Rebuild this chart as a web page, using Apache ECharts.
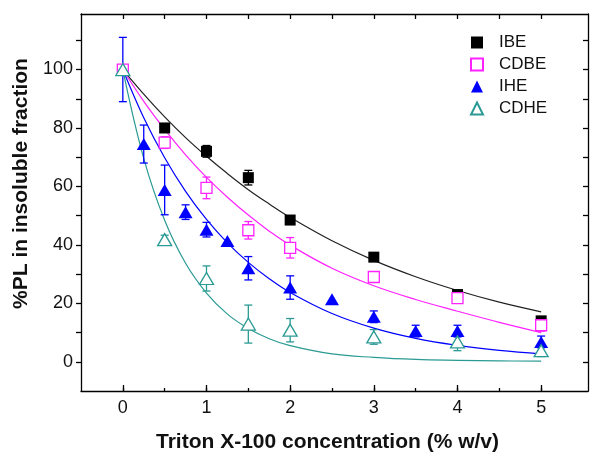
<!DOCTYPE html>
<html><head><meta charset="utf-8">
<script src="https://cdn.jsdelivr.net/npm/echarts@6/dist/echarts.min.js"></script>
<style>html,body{margin:0;padding:0;background:#fff}#c{width:590px;height:452px}</style>
</head><body><div id="c"></div>
<script>
// ---- data ----
const xIBE = [0, 0.5, 1, 1.5, 2, 3, 4, 5];
const yIBE = [100, 80, 72, 63, 48.5, 35.8, 23, 14];
const eIBE = [0, 1.5, 2, 2.5, 1.5, 1, 1, 1];

const xCDBE = [0, 0.5, 1, 1.5, 2, 3, 4, 5];
const yCDBE = [100, 75, 59.5, 45, 39, 29, 21.8, 12.5];
const eCDBE = [0, 2, 3.7, 3, 3.5, 1.5, 1.5, 2];

const xIHE = [0, 0.25, 0.5, 0.75, 1, 1.25, 1.5, 2, 2.5, 3, 3.5, 4, 5];
const yIHE = [100, 74.5, 58.8, 51.2, 45.2, 41.3, 32, 25.4, 21.4, 15.4, 10.5, 10.5, 6.8];
const eIHE = [11, 6.5, 8.5, 2.5, 2.5, 0, 4, 4, 0, 2, 2, 2, 2];

const xCDHE = [0, 0.5, 1, 1.5, 2, 3, 4, 5];
const yCDHE = [100, 41.8, 28.5, 12.9, 10.8, 8.5, 6.8, 3.8];
const eCDHE = [0, 1.5, 4.3, 6.5, 4, 2.5, 3, 2];

// fitted curves
const fitX = [0, 0.25, 0.5, 0.75, 1, 1.25, 1.5, 1.75, 2, 2.5, 3, 3.5, 4, 4.5, 5];
const fitIBE = [100, 91.6, 83.8, 76.7, 70.3, 64.4, 58.9, 54.0, 49.4, 41.4, 34.7, 29.1, 24.4, 20.4, 17.1];
const fitCDBE = [100, 89.1, 79.5, 70.8, 63.1, 56.3, 50.2, 44.7, 39.9, 32.0, 26.0, 21.3, 17.3, 13.5, 10.0];
const fitIHE = [100, 83.5, 69.8, 58.3, 48.7, 40.7, 34.0, 28.4, 23.7, 16.5, 11.5, 8.0, 5.6, 3.9, 2.7];
const fitCDHE = [100, 69.6, 48.4, 33.7, 23.5, 16.3, 11.4, 7.9, 5.5, 2.7, 1.5, 0.8, 0.5, 0.3, 0.2];

const xTickLabels = [0, 1, 2, 3, 4, 5];
const yTickLabels = [0, 20, 40, 60, 80, 100];

// ---- chart ----
const FONT = 'Liberation Sans, Arial, Helvetica, sans-serif';
const C_IBE = '#000000', C_CDBE = '#ff22ff', C_IHE = '#0000ff', C_CDHE = '#2a9a94';

const pairs = (xs, ys) => xs.map((x, i) => [x, ys[i]]);

function errSeries(xs, ys, es, color) {
  return {
    type: 'custom', z: 3, silent: true,
    encode: { x: 0, y: [1, 2] },
    data: xs.map((x, i) => [x, ys[i] - es[i], ys[i] + es[i]]),
    renderItem: function (params, api) {
      const x = api.value(0);
      const lo = api.coord([x, api.value(1)]);
      const hi = api.coord([x, api.value(2)]);
      if (Math.abs(hi[1] - lo[1]) < 0.5) return { type: 'group', children: [] };
      const w = 4;
      const st = { stroke: color, lineWidth: 1.3 };
      return {
        type: 'group', children: [
          { type: 'line', shape: { x1: lo[0], y1: lo[1], x2: hi[0], y2: hi[1] }, style: st },
          { type: 'line', shape: { x1: hi[0] - w, y1: hi[1], x2: hi[0] + w, y2: hi[1] }, style: st },
          { type: 'line', shape: { x1: lo[0] - w, y1: lo[1], x2: lo[0] + w, y2: lo[1] }, style: st }
        ]
      };
    }
  };
}

function fitSeries(ys, color) {
  return {
    type: 'line', data: pairs(fitX, ys), smooth: 0.4, showSymbol: false, symbol: 'none',
    silent: true, z: 1, lineStyle: { color: color, width: 1.2 }
  };
}

const chart = echarts.init(document.getElementById('c'), null, { renderer: 'canvas' });

const axisLineStyle = { color: '#000', width: 1.3 };
const halfTicks = [0, 0.5, 1, 1.5, 2, 2.5, 3, 3.5, 4, 4.5, 5];
const tenTicks = [0, 10, 20, 30, 40, 50, 60, 70, 80, 90, 100, 110];

chart.setOption({
  animation: false,
  backgroundColor: '#fff',
  grid: { left: 81, right: 2, top: 14, bottom: 61, containLabel: false, outerBoundsMode: 'none' },
  legend: {
    orient: 'vertical', left: 465, top: 29, itemWidth: 12, itemHeight: 12, itemGap: 5,
    selectedMode: false,
    data: ['IBE', 'CDBE', 'IHE', 'CDHE'],
    textStyle: { fontFamily: FONT, fontSize: 17, color: '#111', padding: [0, 0, 0, 11] }
  },
  xAxis: [
    {
      type: 'value', position: 'bottom', min: -0.5, max: 5.56,
      axisLine: { show: true, onZero: false, lineStyle: axisLineStyle },
      axisTick: { show: true, inside: true, length: 3, customValues: halfTicks, lineStyle: axisLineStyle },
      axisLabel: { customValues: xTickLabels, margin: 8, fontFamily: FONT, fontSize: 18, color: '#111' },
      splitLine: { show: false },
      name: 'Triton X-100 concentration (% w/v)', nameLocation: 'middle', nameGap: 41,
      nameTextStyle: { fontFamily: FONT, fontSize: 21, fontWeight: 'bold', color: '#111', padding: [0, 14, 0, 0] }
    },
    {
      type: 'value', position: 'bottom', min: -0.5, max: 5.56,
      axisLine: { show: false, onZero: false },
      axisTick: { show: true, inside: true, length: 6, customValues: xTickLabels, lineStyle: axisLineStyle },
      axisLabel: { show: false }, splitLine: { show: false }
    },
    {
      type: 'value', position: 'top', min: -0.5, max: 5.56,
      axisLine: { show: true, onZero: false, lineStyle: axisLineStyle },
      axisTick: { show: true, inside: true, length: 5, customValues: halfTicks, lineStyle: axisLineStyle },
      axisLabel: { show: false }, splitLine: { show: false }
    }
  ],
  yAxis: [
    {
      type: 'value', position: 'left', min: -10, max: 119,
      axisLine: { show: true, onZero: false, lineStyle: axisLineStyle },
      axisTick: { show: true, inside: false, length: 5, customValues: tenTicks, lineStyle: axisLineStyle },
      axisLabel: { customValues: yTickLabels, margin: 8, fontFamily: FONT, fontSize: 18, color: '#111' },
      splitLine: { show: false },
      name: '%PL in insoluble fraction', nameLocation: 'middle', nameGap: 29,
      nameTextStyle: { fontFamily: FONT, fontSize: 21, fontWeight: 'bold', color: '#111', padding: [0, 0, 0, 38] }
    },
    {
      type: 'value', position: 'right', min: -10, max: 119,
      axisLine: { show: true, onZero: false, lineStyle: axisLineStyle },
      axisTick: { show: true, inside: true, length: 5, customValues: tenTicks, lineStyle: axisLineStyle },
      axisLabel: { show: false }, splitLine: { show: false }
    }
  ],
  series: [
    fitSeries(fitIBE, '#222222'),
    fitSeries(fitCDBE, C_CDBE),
    fitSeries(fitIHE, C_IHE),
    fitSeries(fitCDHE, C_CDHE),
    errSeries(xIBE, yIBE, eIBE, C_IBE),
    errSeries(xCDBE, yCDBE, eCDBE, C_CDBE),
    errSeries(xIHE, yIHE, eIHE, C_IHE),
    errSeries(xCDHE, yCDHE, eCDHE, C_CDHE),
    {
      name: 'IBE', type: 'scatter', z: 4, data: pairs(xIBE, yIBE), symbol: 'rect', symbolSize: 11,
      itemStyle: { color: C_IBE, opacity: 1 }
    },
    {
      name: 'CDBE', type: 'scatter', z: 5, data: pairs(xCDBE, yCDBE), symbol: 'rect', symbolSize: 11,
      itemStyle: { color: '#ffffff', borderColor: C_CDBE, borderWidth: 1.3, opacity: 1 }
    },
    {
      name: 'IHE', type: 'scatter', z: 6, data: pairs(xIHE, yIHE), symbol: 'triangle', symbolSize: [14, 12],
      itemStyle: { color: C_IHE, opacity: 1 }
    },
    {
      name: 'CDHE', type: 'scatter', z: 7, data: pairs(xCDHE, yCDHE), symbol: 'triangle', symbolSize: [14, 12],
      itemStyle: { color: '#ffffff', borderColor: C_CDHE, borderWidth: 1.3, opacity: 1 }
    }
  ]
});
</script>
</body></html>
